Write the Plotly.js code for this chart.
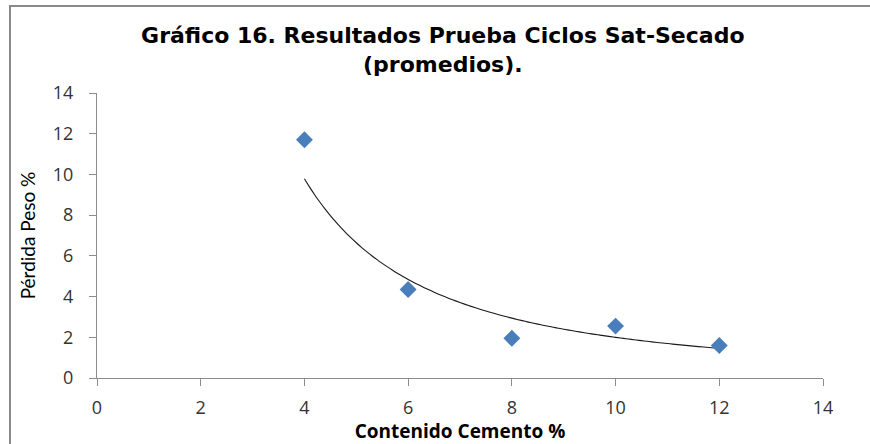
<!DOCTYPE html>
<html>
<head>
<meta charset="utf-8">
<script src="https://cdn.plot.ly/plotly-3.0.1.min.js"></script>
<style>
  html, body { margin: 0; padding: 0; background: #fff; }
  #wrap { position: relative; width: 870px; height: 444px; }
  #chart { width: 870px; height: 444px; }
  #frame { position: absolute; left: 9px; top: 5px; width: 861px; height: 439px;
           border-top: 2px solid #8a8a8a; border-left: 2px solid #8a8a8a;
           box-sizing: border-box; pointer-events: none; }
</style>
</head>
<body>
<div id="wrap">
  <div id="chart"></div>
  <div id="frame"></div>
</div>
<script>
// Data
const cementContent = [4, 6, 8, 10, 12];          // Contenido Cemento %
const weightLoss    = [11.7, 4.35, 1.95, 2.55, 1.6]; // Pérdida Peso %
const tickValues = [0, 2, 4, 6, 8, 10, 12, 14];
const tickLabels = ['0', '2', '4', '6', '8', '10', '12', '14'];
const chartTitle = 'Gráfico 16. Resultados Prueba Ciclos Sat-Secado<br>(promedios).';
const xTitle = 'Contenido Cemento %';
const yTitle = 'Pérdida Peso %';

// Power trendline (least squares in log-log space), as Excel does
const lx = cementContent.map(Math.log), ly = weightLoss.map(Math.log);
const n = lx.length;
const mx = lx.reduce((a, b) => a + b, 0) / n, my = ly.reduce((a, b) => a + b, 0) / n;
let sxy = 0, sxx = 0;
for (let i = 0; i < n; i++) { sxy += (lx[i] - mx) * (ly[i] - my); sxx += (lx[i] - mx) ** 2; }
const b = sxy / sxx, a = Math.exp(my - b * mx);
const xmin = Math.min(...cementContent), xmax = Math.max(...cementContent);
const trendX = [], trendY = [];
for (let k = 0; k <= 80; k++) {
  const x = xmin + (xmax - xmin) * k / 80;
  trendX.push(x); trendY.push(a * Math.pow(x, b));
}

const tickFont = { family: 'Open Sans, sans-serif', size: 18, color: '#333333' };

const data = [
  { x: trendX, y: trendY, type: 'scatter', mode: 'lines',
    line: { color: '#1a1a1a', width: 1.1, shape: 'spline' }, hoverinfo: 'skip', showlegend: false },
  { x: cementContent, y: weightLoss, type: 'scatter', mode: 'markers',
    marker: { symbol: 'diamond', size: 13, color: '#4a7ebb', line: { width: 0 } },
    showlegend: false }
];

const layout = {
  width: 870, height: 444,
  margin: { l: 97, r: 47, t: 93, b: 66 },
  paper_bgcolor: '#ffffff', plot_bgcolor: '#ffffff',
  title: { text: chartTitle, x: 0.509, xref: 'container', xanchor: 'center',
           y: 0.903, yref: 'container', yanchor: 'middle',
           font: { family: 'DejaVu Sans, sans-serif', size: 22, color: '#000000', weight: 'bold' } },
  xaxis: {
    range: [0, 14], tickmode: 'array', tickvals: tickValues, ticktext: tickLabels,
    showgrid: false, zeroline: false, showline: true, linecolor: '#8c8c8c', linewidth: 1,
    ticks: 'outside', ticklen: 7, tickcolor: '#8c8c8c', tickwidth: 1,
    tickfont: tickFont, ticklabelstandoff: 6,
    title: { text: xTitle, standoff: 3,
             font: { family: 'Open Sans, sans-serif', size: 19, color: '#000000', weight: 'bold' } }
  },
  yaxis: {
    range: [0, 14], tickmode: 'array', tickvals: tickValues, ticktext: tickLabels,
    showgrid: false, zeroline: false, showline: true, linecolor: '#8c8c8c', linewidth: 1,
    ticks: 'outside', ticklen: 7, tickcolor: '#8c8c8c', tickwidth: 1,
    tickfont: tickFont, ticklabelstandoff: 12,
    title: { text: yTitle, standoff: 12,
             font: { family: 'Lato, sans-serif', size: 19, color: '#000000' } }
  }
};

Plotly.newPlot('chart', data, layout, { displayModeBar: false, staticPlot: true });
</script>
</body>
</html>
